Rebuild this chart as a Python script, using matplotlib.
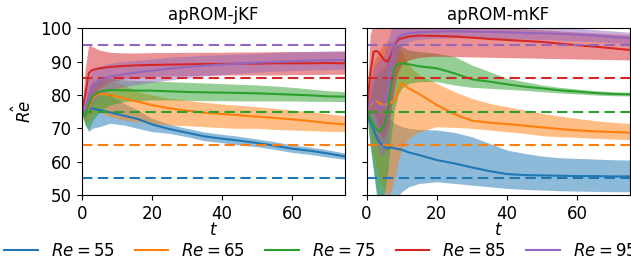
import matplotlib
matplotlib.use("Agg")
import matplotlib.pyplot as plt
import numpy as np

plt.rcParams['font.size'] = 12

re_values = [55, 65, 75, 85, 95]
colors = ['C0', 'C1', 'C2', 'C3', 'C4']

# apROM-jKF
t_j = [0, 1, 2, 3, 5, 8, 12, 16, 20, 25, 30, 35, 40, 45, 50, 55, 60, 65, 70, 75]
j55_mean = [75, 73.8, 75.5, 76, 75.5, 74.8, 73.8, 72.8, 71.2, 69.8, 68.7, 67.6, 66.9, 66.3, 65.6, 64.8, 63.9, 63.3, 62.5, 61.6]
j55_lo = [74.5, 71, 69, 70, 70.5, 71.5, 71, 70, 69, 68.5, 67.5, 66.3, 65.7, 65, 64.5, 63.7, 62.8, 62.2, 61.4, 60.7]
j55_hi = [75.5, 75, 77, 78.5, 80, 80, 77.5, 75.5, 73, 71.2, 70, 68.9, 68.2, 67.6, 66.8, 66, 65, 64.4, 63.6, 62.6]
j65_mean = [75, 73.5, 76, 79, 80.5, 80, 79, 78, 77, 76, 75.3, 74.7, 74.3, 73.9, 73.5, 73.1, 72.7, 72.2, 71.6, 71.2]
j65_lo = [74.5, 72, 72, 74, 75, 73.5, 72.5, 72, 71.5, 71, 70.8, 70.5, 70.2, 70, 70, 69.7, 69.5, 69.3, 69.1, 69]
j65_hi = [75.5, 75, 80, 83, 84.5, 84.5, 83, 81, 80, 79, 78.4, 77.8, 77.3, 76.9, 76.5, 76, 75.5, 75, 74.4, 73.8]
j75_mean = [75, 73.5, 77, 79.5, 81, 81.5, 81.4, 81.3, 81.3, 81.1, 80.9, 80.8, 80.7, 80.6, 80.5, 80.3, 80.1, 79.9, 79.6, 79.5]
j75_lo = [74.5, 71, 69.5, 72, 75, 77, 78, 78.3, 78.5, 78.5, 78.4, 78.3, 78.3, 78.2, 78.2, 78.2, 78.2, 78.1, 78.1, 78]
j75_hi = [75.5, 75.5, 82, 84, 85, 85, 84.5, 84.3, 84.2, 84, 83.8, 83.6, 83.4, 83.2, 83, 82.7, 82.3, 81.8, 81.3, 81]
j85_mean = [75, 80, 86.5, 87.5, 88, 88.4, 88.7, 88.9, 89, 89.1, 89.2, 89.3, 89.3, 89.4, 89.4, 89.5, 89.5, 89.5, 89.6, 89.5]
j85_lo = [74.5, 74, 77, 80, 82, 84, 84.8, 85.2, 85.5, 85.7, 85.8, 85.9, 86, 86, 86, 86, 86.1, 86.1, 86.2, 86.2]
j85_hi = [75.5, 88, 95, 94.5, 93.5, 92.8, 92.6, 92.6, 92.7, 92.7, 92.8, 92.8, 92.8, 92.9, 92.9, 93, 93, 93, 93, 93]
j95_mean = [75, 76, 80, 82.5, 84.3, 85.5, 86.2, 86.8, 87.3, 87.9, 88.4, 88.8, 89.1, 89.4, 89.7, 89.9, 90.1, 90.3, 90.4, 90.5]
j95_lo = [74.5, 72.5, 75, 77.5, 80, 81.5, 82.5, 83.2, 83.8, 84.5, 85.2, 85.7, 86.1, 86.5, 86.8, 87.1, 87.3, 87.5, 87.6, 87.7]
j95_hi = [75.5, 80, 85, 87.5, 88.5, 89.5, 90, 90.4, 90.8, 91.3, 91.6, 91.9, 92.1, 92.3, 92.5, 92.7, 92.9, 93.1, 93.2, 93.3]

# apROM-mKF
t_m = [0, 1, 2, 3, 4, 5, 6, 7, 8, 9, 10, 12, 15, 20, 25, 30, 35, 40, 45, 50, 55, 60, 65, 70, 75]
m55_mean = [75, 72, 69.5, 67, 65.5, 64.5, 64, 64.3, 64, 63.8, 63.6, 62.8, 62, 60.5, 59.5, 58.3, 57.2, 56.3, 56, 55.9, 55.8, 55.7, 55.7, 55.6, 55.6]
m55_lo = [74.5, 65, 57, 48, 42, 40, 41, 44, 47, 49.5, 51, 52.5, 53.5, 54, 53.5, 53, 52.5, 52, 51.7, 51.5, 51.3, 51.2, 51.1, 51, 51]
m55_hi = [75.5, 76, 76, 75, 73.5, 73, 73, 72.5, 71.5, 71, 70.5, 70, 69.7, 69.5, 68.8, 67.5, 65.5, 63.5, 62.5, 61.7, 61.2, 61, 60.8, 60.6, 60.5]
m65_mean = [75, 77, 78, 78, 77.3, 77, 77.3, 77.8, 78.5, 81, 83.5, 82, 80.3, 77, 74.3, 72.3, 71.7, 71.3, 70.8, 70.3, 69.8, 69.4, 69.1, 68.9, 68.7]
m65_lo = [74.5, 70, 62, 57, 54, 51, 50, 51, 55, 60, 64, 67, 69, 70.5, 70.3, 70, 69.5, 69, 68.5, 67.8, 67.5, 67.3, 67, 66.8, 66.6]
m65_hi = [75.5, 85, 90, 92, 94, 95, 96, 96, 95.5, 95, 93, 89, 86, 83.5, 81, 79, 77.5, 76.5, 75.5, 74.5, 73.7, 73, 72.3, 71.8, 71.5]
m75_mean = [75, 73, 71, 69.5, 69, 71, 75, 83, 88, 89.3, 89.5, 89.2, 88.6, 88, 86.5, 84.7, 84, 83.2, 82.5, 82, 81.4, 81, 80.6, 80.3, 80.2]
m75_lo = [74.5, 65, 57, 50, 48, 50, 57, 68, 76, 80, 82, 83.5, 84, 84, 83, 82.3, 82, 81.7, 81.4, 81, 80.6, 80.3, 80, 79.8, 79.7]
m75_hi = [75.5, 80, 84, 86, 87, 88, 90, 93, 94.5, 95, 94.5, 93.5, 93, 92.5, 91.5, 89, 87, 85, 84, 83, 82.3, 81.8, 81.3, 81, 80.8]
m85_mean = [75, 86, 93, 93.2, 92, 90.5, 90, 92, 95, 96.5, 97, 97.5, 97.8, 97.7, 97.5, 97.2, 96.8, 96.5, 96.2, 95.9, 95.4, 94.9, 94.5, 94, 93.5]
m85_lo = [74.5, 74, 76, 72, 68, 67, 70, 76, 83, 87, 89, 90.5, 91.3, 91.6, 91.5, 91.4, 91.3, 91.2, 91.1, 91, 90.9, 90.8, 90.7, 90.6, 90.5]
m85_hi = [75.5, 98, 102, 103, 103, 103, 103, 103, 102, 101.5, 101, 101, 101, 100.8, 100.6, 100.4, 100.2, 100, 99.8, 99.5, 99.2, 98.9, 98.6, 98.3, 98]
m95_mean = [75, 77.5, 78.3, 77, 76, 77, 82, 90, 95.5, 97.3, 98, 98.5, 98.8, 99, 99.1, 99, 98.9, 98.8, 98.6, 98.5, 98.3, 98.1, 97.8, 97.4, 97]
m95_lo = [74.5, 72, 68, 65, 62, 62, 66, 75, 85, 92, 94.5, 96, 96.7, 97, 97.2, 97.1, 97, 96.9, 96.8, 96.6, 96.4, 96.2, 96, 95.7, 95.4]
m95_hi = [75.5, 83, 88, 90, 91, 92, 96, 100, 101, 101, 101, 100.8, 100.8, 100.8, 100.8, 100.8, 100.7, 100.6, 100.5, 100.4, 100.2, 100, 99.6, 99.2, 98.8]

jkf = [(j55_mean, j55_lo, j55_hi), (j65_mean, j65_lo, j65_hi), (j75_mean, j75_lo, j75_hi),
       (j85_mean, j85_lo, j85_hi), (j95_mean, j95_lo, j95_hi)]
mkf = [(m55_mean, m55_lo, m55_hi), (m65_mean, m65_lo, m65_hi), (m75_mean, m75_lo, m75_hi),
       (m85_mean, m85_lo, m85_hi), (m95_mean, m95_lo, m95_hi)]

fig = plt.figure(figsize=(6.31, 2.64), dpi=100)
ax1 = fig.add_axes([0.1295, 0.261, 0.417, 0.632])
ax2 = fig.add_axes([0.581, 0.261, 0.417, 0.632])


def draw_panel(ax, t, series, title):
    for (mean, lo, hi), re, c in zip(series, re_values, colors):
        ax.fill_between(t, lo, hi, color=c, alpha=0.5, linewidth=0)
        ax.plot(t, mean, color=c, lw=1.5, label='$Re = %d$' % re)
        ax.axhline(re, color=c, ls='--', lw=1.5, dashes=(5, 2.6))
    ax.set_xlim(0, 75)
    ax.set_ylim(50, 100)
    ax.set_yticks(np.arange(50, 101, 10))
    ax.set_xlabel('$t$', labelpad=-1)
    ax.set_title(title, fontsize=12)


draw_panel(ax1, t_j, jkf, 'apROM-jKF')
draw_panel(ax2, t_m, mkf, 'apROM-mKF')
ax1.set_ylabel(r'$\hat{Re}$')
ax2.set_yticklabels([])

handles, labels = ax1.get_legend_handles_labels()
fig.legend(handles, labels, loc='center', bbox_to_anchor=(0.508, 0.05), ncol=5,
           frameon=False, columnspacing=1.2)

fig.savefig('out.png', dpi=100)
